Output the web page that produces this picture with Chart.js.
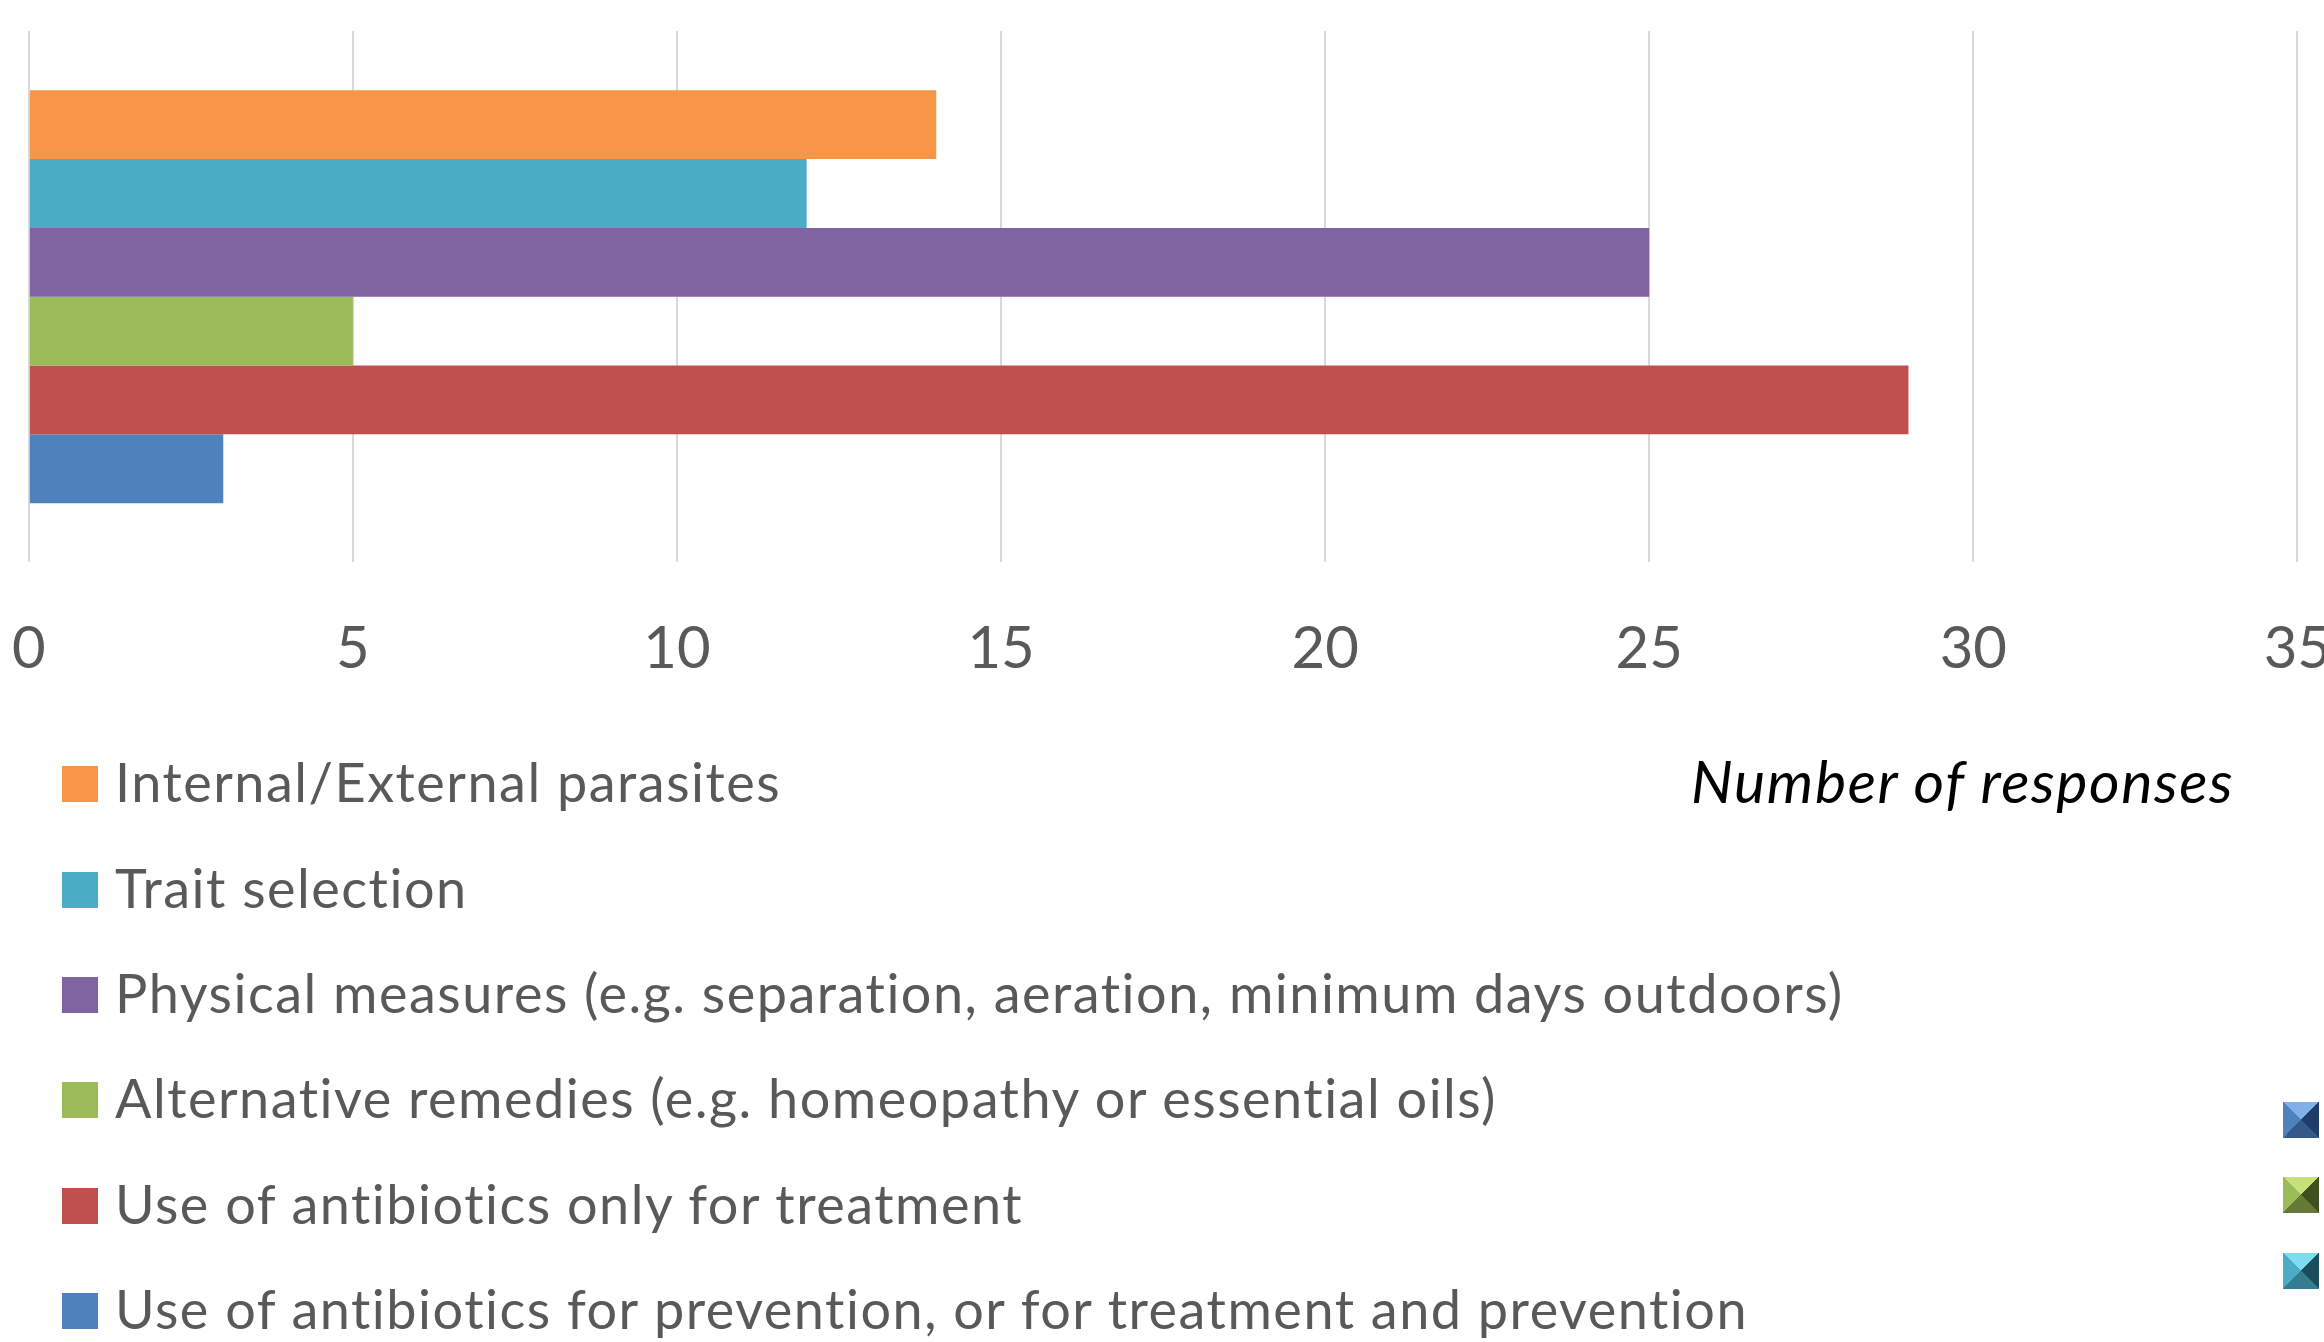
<!DOCTYPE html>
<html lang="en">
<head>
    <meta charset="UTF-8">
    <title>Number of responses</title>
    <script src="https://cdn.jsdelivr.net/npm/chart.js"></script>
    <style>
        body { margin: 0; width: 2324px; height: 1342px; overflow: hidden; background: #fff; position: relative; font-family: Lato, sans-serif; }
        /* o canvas passa um pouco das bordas: o "35" fica cortado como no original */
        #wrap { position: absolute; left: -40px; top: 0; width: 2423px; height: 779px; }
        .item { position: absolute; left: 62px; height: 64px; line-height: 64px; white-space: nowrap; color: #595959; font-size: 54px; letter-spacing: 1.5px; }
        .item .box { display: inline-block; width: 36px; height: 36px; margin-right: 17px; vertical-align: baseline; }
        #titulo { position: absolute; left: 1691px; top: 745px; line-height: normal; font-style: italic; font-size: 59px; letter-spacing: 1.6px; color: #000; white-space: nowrap; }
        .bisel { position: absolute; left: 2283px; width: 36px; height: 36px; }
    </style>
</head>
<body>
    <div id="wrap"><canvas id="grafico"></canvas></div>
    <div id="legenda"></div>
    <div id="titulo"></div>
    <div class="bisel" style="top:1102px; background: conic-gradient(from -45deg, #7fb0e8 0 90deg, #1f3d66 90deg 180deg, #35598a 180deg 270deg, #4f81bd 270deg 360deg);"></div>
    <div class="bisel" style="top:1177px; background: conic-gradient(from -45deg, #c6e07a 0 90deg, #3f4f1d 90deg 180deg, #647a36 180deg 270deg, #9bbb59 270deg 360deg);"></div>
    <div class="bisel" style="top:1253px; background: conic-gradient(from -45deg, #7fdcf0 0 90deg, #1c4d5c 90deg 180deg, #357c90 180deg 270deg, #4bacc6 270deg 360deg);"></div>

<script>
    // dados
    const categorias = [
        'Internal/External parasites',
        'Trait selection',
        'Physical measures (e.g. separation, aeration, minimum days outdoors)',
        'Alternative remedies (e.g. homeopathy or essential oils)',
        'Use of antibiotics only for treatment',
        'Use of antibiotics for prevention, or for treatment and prevention'
    ];
    const respostas = [14, 12, 25, 5, 29, 3];
    const cores = ['#F79646', '#4BACC6', '#8064A2', '#9BBB59', '#C0504D', '#4F81BD'];
    const ticksX = [0, 5, 10, 15, 20, 25, 30, 35];
    const tituloX = 'Number of responses';

    const datasets = categorias.map(function (nome, i) {
        return {
            label: nome,
            data: [respostas[i]],
            backgroundColor: cores[i],
            borderWidth: 0,
            categoryPercentage: 0.777,
            barPercentage: 1
        };
    });

    const grafico = new Chart(document.getElementById('grafico'), {
        type: 'bar',
        data: { labels: [''], datasets: datasets },
        options: {
            indexAxis: 'y',
            responsive: true,
            maintainAspectRatio: false,
            animation: false,
            layout: { padding: { left: 29, top: 31, right: 81, bottom: 43 } },
            plugins: { legend: { display: false }, tooltip: { enabled: false } },
            scales: {
                x: {
                    min: ticksX[0],
                    max: ticksX[ticksX.length - 1],
                    afterBuildTicks: function (eixo) { eixo.ticks = ticksX.map(function (v) { return { value: v }; }); },
                    ticks: { font: { family: 'Lato', size: 58 }, color: '#595959', padding: 52 },
                    grid: { color: '#D9D9D9', lineWidth: 2, drawTicks: false },
                    border: { display: false }
                },
                y: { display: false }
            }
        }
    });

    // legenda em html, uma linha por serie (quadrado alinhado na linha de base)
    const legenda = document.getElementById('legenda');
    categorias.forEach(function (nome, i) {
        const item = document.createElement('div');
        item.className = 'item';
        const base = 804 + i * 105.3;
        item.style.top = (base - 53.7) + 'px';
        item.innerHTML = '<span class="box" style="background:' + cores[i] + '"></span>' + nome;
        legenda.appendChild(item);
    });
    document.getElementById('titulo').textContent = tituloX;
</script>
</body>
</html>
